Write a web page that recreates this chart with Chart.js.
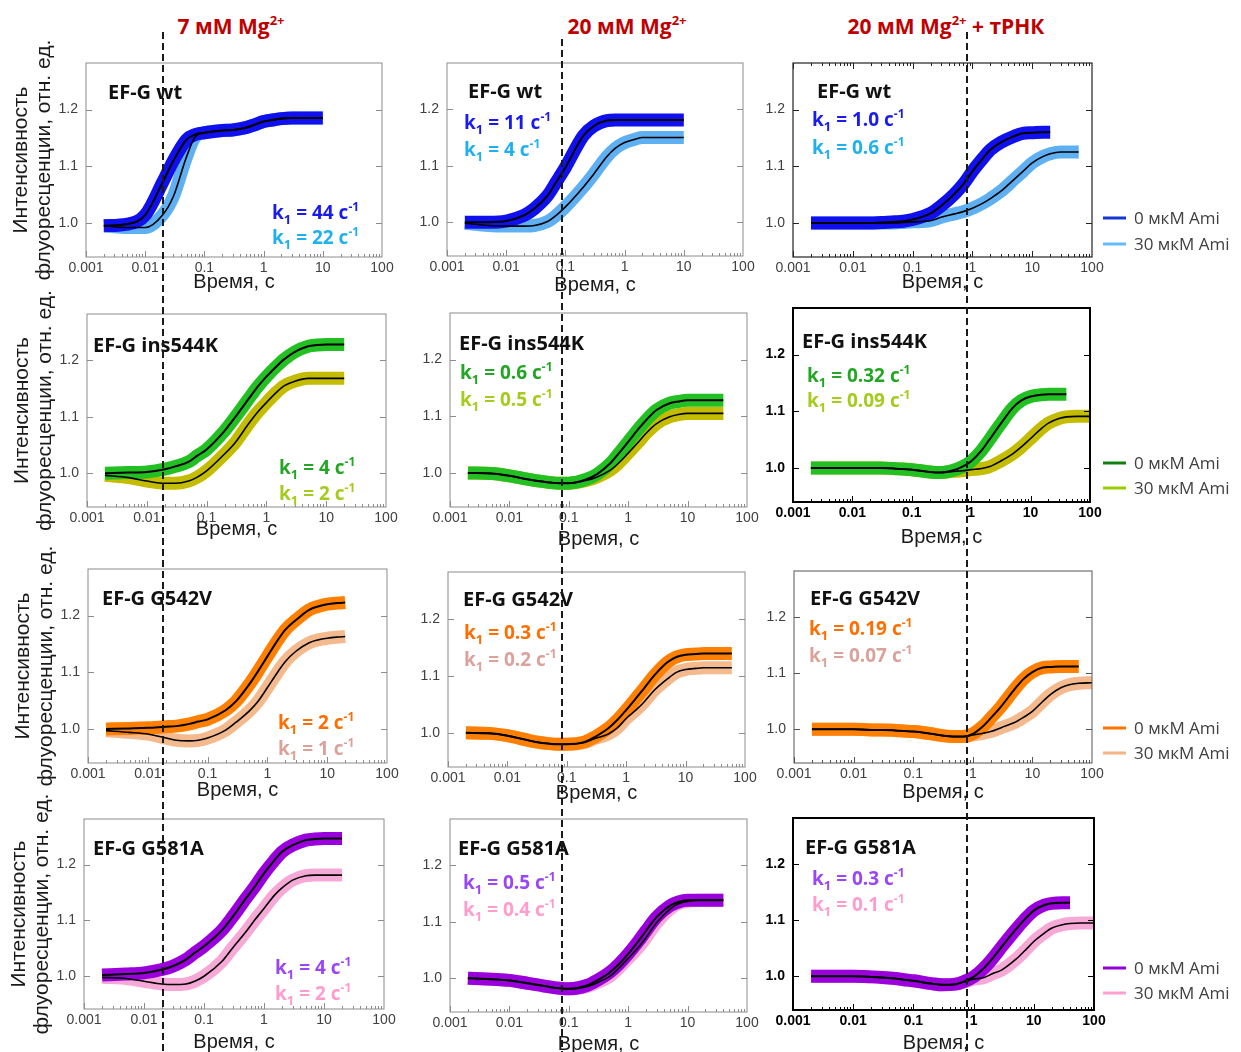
<!DOCTYPE html>
<html lang="ru">
<head>
<meta charset="utf-8">
<title>EF-G, флуоресценция</title>
<script src="https://cdn.jsdelivr.net/npm/chart.js@4.4.1/dist/chart.umd.min.js"></script>
<style>
  html, body { margin: 0; padding: 0; background: #fff; }
  #fig { position: relative; width: 1241px; height: 1052px; overflow: hidden; }
  #fig canvas { position: absolute; }
  .ctitle { position: absolute; top: 11px; transform: translateX(-50%); white-space: nowrap;
    font: bold 21px "Open Sans", sans-serif; color: #c00000; line-height: 30px; }
  .ctitle sup { font-size: 13px; line-height: 0; vertical-align: 9px; }
  #overlay { left: 0; top: 0; pointer-events: none; z-index: 5; }
</style>
</head>
<body>
<div id="fig">
  <div class="ctitle" style="left:231px">7 мМ Mg<sup>2+</sup></div>
  <div class="ctitle" style="left:627px">20 мМ Mg<sup>2+</sup></div>
  <div class="ctitle" style="left:946px">20 мМ Mg<sup>2+</sup> + тРНК</div>
  <canvas id="overlay" width="1241" height="1052"></canvas>
</div>
<script>
// общая сетка времени (с)
const TIMES = [0.002, 0.005, 0.01, 0.02, 0.03, 0.05, 0.07, 0.1, 0.2, 0.3, 0.5, 0.7, 1, 1.5, 2, 3, 5, 7, 10, 15, 20, 30, 40, 60, 100];

const X_TICKS = [0.001, 0.01, 0.1, 1, 10, 100];
const X_LABELS = ["0.001", "0.01", "0.1", "1", "10", "100"];
const Y_TICKS = [1.0, 1.1, 1.2];
const MUTANTS = ["EF-G wt", "EF-G ins544K", "EF-G G542V", "EF-G G581A"];
const SERIES_NAMES = ["0 мкМ Ami", "30 мкМ Ami"];
const DASH_TIMES = [0.02, 0.087, 0.81];

// k1 (с^-1) для 0 и 30 мкМ Ami: строки - мутанты, столбцы - условия
const K_0 = [["44", "11", "1.0"], ["4", "0.6", "0.32"], ["2", "0.3", "0.19"], ["4", "0.5", "0.3"]];
const K_30 = [["22", "4", "0.6"], ["2", "0.5", "0.09"], ["1", "0.2", "0.07"], ["2", "0.4", "0.1"]];

// EF-G wt
const wt_7_0 = [0.995, 0.998, 1.014, 1.073, 1.11, 1.147, 1.156, 1.159, 1.163, 1.164, 1.168, 1.173, 1.179, 1.182, 1.184, 1.185, 1.185, 1.185, 1.185, null, null, null, null, null, null];
const wt_7_30 = [0.995, 0.992, 0.992, 1.015, 1.047, 1.117, 1.152, 1.159, 1.163, 1.164, 1.168, 1.173, 1.179, 1.182, 1.184, 1.185, 1.185, 1.185, 1.185, null, null, null, null, null, null];
const wt_20_0 = [1.0, 1.0, 1.002, 1.012, 1.024, 1.047, 1.071, 1.097, 1.153, 1.17, 1.18, 1.181, 1.181, 1.181, 1.181, 1.181, 1.181, 1.181, 1.181, null, null, null, null, null, null];
const wt_20_30 = [0.998, 0.994, 0.993, 0.993, 0.994, 1.001, 1.012, 1.027, 1.062, 1.085, 1.116, 1.131, 1.141, 1.147, 1.15, 1.15, 1.15, 1.15, 1.15, null, null, null, null, null, null];
const wt_tr_0 = [1.0, 1.0, 1.0, 1.0, 1.001, 1.002, 1.003, 1.006, 1.017, 1.03, 1.051, 1.068, 1.091, 1.114, 1.129, 1.142, 1.153, 1.158, 1.159, 1.16, 1.16, null, null, null, null];
const wt_tr_30 = [1.0, 1.0, 1.0, 1.0, 1.0, 1.0, 1.001, 1.002, 1.004, 1.01, 1.016, 1.02, 1.026, 1.035, 1.043, 1.056, 1.077, 1.091, 1.106, 1.117, 1.122, 1.125, 1.125, 1.125, null];

// EF-G ins544K
const ins_7_0 = [1.0, 1.001, 1.002, 1.007, 1.012, 1.02, 1.031, 1.042, 1.075, 1.099, 1.131, 1.152, 1.171, 1.19, 1.202, 1.215, 1.225, 1.227, 1.228, 1.228, 1.228, null, null, null, null];
const ins_7_30 = [0.996, 0.992, 0.986, 0.982, 0.982, 0.986, 0.993, 1.004, 1.034, 1.054, 1.087, 1.107, 1.125, 1.144, 1.155, 1.163, 1.168, 1.168, 1.168, 1.168, 1.168, null, null, null, null];
const ins_20_0 = [1.0, 0.999, 0.995, 0.989, 0.986, 0.983, 0.982, 0.982, 0.989, 0.998, 1.017, 1.035, 1.055, 1.078, 1.093, 1.111, 1.123, 1.126, 1.128, 1.128, 1.128, 1.128, 1.128, null, null];
const ins_20_30 = [1.0, 0.999, 0.995, 0.989, 0.986, 0.983, 0.982, 0.982, 0.987, 0.993, 1.005, 1.018, 1.035, 1.055, 1.07, 1.087, 1.099, 1.103, 1.105, 1.105, 1.105, 1.105, 1.105, null, null];
const ins_tr_0 = [1.0, 1.0, 1.0, 1.0, 1.0, 0.999, 0.998, 0.997, 0.993, 0.992, 0.996, 1.002, 1.012, 1.031, 1.049, 1.075, 1.106, 1.119, 1.126, 1.129, 1.13, 1.13, 1.13, null, null];
const ins_tr_30 = [1.0, 1.0, 1.0, 1.0, 1.0, 0.999, 0.998, 0.997, 0.993, 0.992, 0.994, 0.995, 0.997, 0.999, 1.002, 1.011, 1.025, 1.037, 1.052, 1.069, 1.079, 1.087, 1.09, 1.091, 1.091];

// EF-G G542V
const g542_7_0 = [1.0, 1.001, 1.002, 1.004, 1.005, 1.009, 1.013, 1.017, 1.033, 1.049, 1.079, 1.102, 1.128, 1.157, 1.175, 1.192, 1.21, 1.216, 1.22, 1.222, 1.223, null, null, null, null];
const g542_7_30 = [0.997, 0.994, 0.991, 0.984, 0.98, 0.979, 0.98, 0.984, 0.998, 1.012, 1.032, 1.049, 1.073, 1.101, 1.119, 1.137, 1.152, 1.157, 1.16, 1.162, 1.163, null, null, null, null];
const g542_20_0 = [1.0, 0.999, 0.995, 0.988, 0.984, 0.981, 0.98, 0.98, 0.984, 0.993, 1.008, 1.022, 1.04, 1.062, 1.078, 1.101, 1.124, 1.133, 1.137, 1.138, 1.139, 1.139, 1.139, 1.139, null];
const g542_20_30 = [1.0, 0.999, 0.995, 0.988, 0.984, 0.981, 0.98, 0.98, 0.983, 0.99, 0.998, 1.008, 1.025, 1.041, 1.054, 1.075, 1.095, 1.106, 1.111, 1.113, 1.114, 1.114, 1.114, 1.114, null];
const g542_tr_0 = [1.0, 1.0, 1.0, 0.999, 0.999, 0.998, 0.997, 0.996, 0.992, 0.989, 0.987, 0.987, 0.992, 1.006, 1.02, 1.041, 1.071, 1.089, 1.102, 1.11, 1.111, 1.112, 1.112, 1.112, null];
const g542_tr_30 = [1.0, 1.0, 1.0, 0.999, 0.999, 0.998, 0.997, 0.996, 0.992, 0.989, 0.987, 0.987, 0.99, 0.993, 0.996, 1.003, 1.012, 1.021, 1.032, 1.05, 1.062, 1.074, 1.079, 1.082, 1.083];

// EF-G G581A
const g581_7_0 = [1.001, 1.003, 1.005, 1.011, 1.017, 1.029, 1.041, 1.053, 1.082, 1.106, 1.139, 1.16, 1.184, 1.208, 1.223, 1.235, 1.244, 1.246, 1.247, 1.247, 1.247, null, null, null, null];
const g581_7_30 = [0.997, 0.995, 0.99, 0.985, 0.984, 0.985, 0.99, 0.999, 1.026, 1.05, 1.079, 1.1, 1.121, 1.145, 1.158, 1.172, 1.18, 1.181, 1.181, 1.181, 1.181, null, null, null, null];
const g581_20_0 = [1.0, 0.998, 0.996, 0.991, 0.988, 0.984, 0.982, 0.981, 0.987, 0.996, 1.011, 1.025, 1.043, 1.066, 1.084, 1.108, 1.128, 1.135, 1.138, 1.138, 1.138, 1.138, 1.138, null, null];
const g581_20_30 = [1.0, 0.998, 0.996, 0.991, 0.988, 0.984, 0.982, 0.981, 0.985, 0.992, 1.004, 1.018, 1.035, 1.055, 1.072, 1.098, 1.122, 1.132, 1.136, 1.138, 1.138, 1.138, 1.138, null, null];
const g581_tr_0 = [1.0, 1.0, 1.0, 0.999, 0.998, 0.996, 0.994, 0.992, 0.987, 0.985, 0.986, 0.991, 0.999, 1.015, 1.03, 1.054, 1.083, 1.101, 1.117, 1.127, 1.13, 1.131, 1.131, null, null];
const g581_tr_30 = [1.0, 1.0, 1.0, 0.999, 0.998, 0.996, 0.994, 0.992, 0.987, 0.985, 0.986, 0.99, 0.995, 0.998, 1.004, 1.012, 1.03, 1.045, 1.062, 1.077, 1.086, 1.092, 1.094, 1.095, 1.095];

const SERIES = [
  [wt_7_0, wt_7_30], [wt_20_0, wt_20_30], [wt_tr_0, wt_tr_30],
  [ins_7_0, ins_7_30], [ins_20_0, ins_20_30], [ins_tr_0, ins_tr_30],
  [g542_7_0, g542_7_30], [g542_20_0, g542_20_30], [g542_tr_0, g542_tr_30],
  [g581_7_0, g581_7_30], [g581_20_0, g581_20_30], [g581_tr_0, g581_tr_30],
];

// --- оформление и раскладка (пиксели страницы) ---
const TRACE_COLORS = [["#1010ee", "#5eb0f2"], ["#22c022", "#c4bc00"], ["#ff8000", "#f4ba8e"], ["#9a00dc", "#f6a9d6"]];
const TEXT_COLORS = [["#1a1aee", "#1fb0f0"], ["#23a623", "#a5cb1c"], ["#ff6e00", "#daa29b"], ["#9a46f6", "#ff9ccd"]];
const LEGEND_COLORS = [["#1335d2", "#62bcff"], ["#137f13", "#9ccc00"], ["#ff7400", "#f6b385"], ["#9300d6", "#ffa0d2"]];

const RECTS = [
  [86, 63, 382, 257], [447, 63, 743, 256], [793, 63, 1092, 257],
  [87, 314, 386, 507], [450, 313, 747, 507], [793, 308, 1090, 502],
  [88, 569, 387, 763], [448, 572, 745, 767], [794, 571, 1092, 763],
  [84, 819, 384, 1009], [450, 819, 747, 1012], [793, 818, 1094, 1010],
];
const LABEL_AT = [[108, 92], [468, 91], [817, 91], [93, 345], [459, 343], [802, 341],
  [102, 598], [463, 599], [810, 598], [93, 848], [458, 848], [805, 847]];
const RATE_AT = [[272, 212, 237], [464, 122, 149], [812, 119, 147], [279, 467, 493], [460, 372, 399], [807, 375, 400],
  [278, 722, 748], [464, 632, 659], [809, 628, 655], [275, 967, 993], [463, 882, 909], [812, 878, 904]];
const XTITLE_OFF = [25, 29, 25, 22, 32, 35, 27, 26, 29, 33, 32, 33];
const LEGEND_Y = [[218, 244], [463, 488], [728, 753], [968, 993]];
const DASH_TOP = [32, 39, 32];
const FRAME = { 2: { color: "#222", width: 1.2, top: true }, 5: { color: "#000", width: 2 },
  8: { color: "#555", width: 1 }, 11: { color: "#000", width: 2 } };
const BOLD_TICKS = [5, 11];

Chart.defaults.font.family = '"Liberation Sans", Arial, sans-serif';

const fig = document.getElementById("fig");
const charts = [];
const offsets = [];

function pts(vals) {
  return TIMES.map((t, i) => ({ x: t, y: vals[i] }));
}

function drawRate(ctx, x, yc, value, color) {
  const base = yc + 7;
  const parts = [["k", 19, 0], ["1", 13, 5], [" = " + value + " с", 19, 0], ["-1", 12, -8]];
  ctx.fillStyle = color;
  ctx.textBaseline = "alphabetic";
  parts.forEach(([t, size, dy]) => {
    ctx.font = `bold ${size}px "Open Sans", sans-serif`;
    ctx.fillText(t, x, base + dy);
    x += ctx.measureText(t).width;
  });
}

function panelPlugin(idx, r, c, ox, oy) {
  const fr = FRAME[idx] || { color: "#8c8c8c", width: 1 };
  return {
    id: "panel" + idx,
    afterDraw(chart) {
      const { ctx, chartArea: a } = chart;
      const { x, y } = chart.scales;
      ctx.save();
      // рамка и засечки
      ctx.strokeStyle = fr.color;
      ctx.lineWidth = fr.width;
      ctx.strokeRect(a.left, a.top, a.right - a.left, a.bottom - a.top);
      ctx.lineWidth = 1;
      ctx.beginPath();
      for (let e = -3; e < 2; e++) {
        for (let m = 1; m <= 9; m++) {
          const px = Math.round(x.getPixelForValue(m * Math.pow(10, e))) + 0.5;
          const len = m === 1 ? 6 : 3;
          ctx.moveTo(px, a.bottom); ctx.lineTo(px, a.bottom - len);
          if (fr.top) { ctx.moveTo(px, a.top); ctx.lineTo(px, a.top + len); }
        }
      }
      Y_TICKS.forEach(v => {
        const py = Math.round(y.getPixelForValue(v)) + 0.5;
        ctx.moveTo(a.left, py); ctx.lineTo(a.left + 6, py);
        ctx.moveTo(a.right, py); ctx.lineTo(a.right - 6, py);
      });
      ctx.stroke();

      // подписи
      ctx.fillStyle = "#111";
      ctx.font = 'bold 20px "Open Sans", sans-serif';
      ctx.textBaseline = "alphabetic";
      ctx.fillText(MUTANTS[r], LABEL_AT[idx][0] - ox, LABEL_AT[idx][1] + 7 - oy);
      const [kx, k0y, k30y] = RATE_AT[idx];
      drawRate(ctx, kx - ox, k0y - oy, K_0[r][c], TEXT_COLORS[r][0]);
      drawRate(ctx, kx - ox, k30y - oy, K_30[r][c], TEXT_COLORS[r][1]);

      // легенда справа
      if (c === 2) {
        ctx.font = '17px "Open Sans", sans-serif';
        ctx.textBaseline = "middle";
        SERIES_NAMES.forEach((name, s) => {
          const ly = LEGEND_Y[r][s] - oy;
          ctx.strokeStyle = LEGEND_COLORS[r][s];
          ctx.lineWidth = 3;
          ctx.beginPath();
          ctx.moveTo(1103 - ox, ly); ctx.lineTo(1126 - ox, ly);
          ctx.stroke();
          ctx.fillStyle = "#404040";
          ctx.fillText(name, 1134 - ox, ly + 1);
        });
      }
      ctx.restore();
    },
  };
}

SERIES.forEach(([s0, s30], idx) => {
  const r = Math.floor(idx / 3), c = idx % 3;
  const [L, T, R, B] = RECTS[idx];
  const yW = c === 0 ? 86 : 50;
  const padTop = c === 0 ? 34 : 8;
  const padRight = c === 2 ? 1241 - R : 16;
  const xH = 50;
  const left = L - yW, top = T - padTop;
  const width = R - L + yW + padRight, height = B - T + padTop + xH;

  const canvas = document.createElement("canvas");
  canvas.width = width;
  canvas.height = height;
  canvas.style.left = left + "px";
  canvas.style.top = top + "px";
  canvas.style.width = width + "px";
  canvas.style.height = height + "px";
  fig.insertBefore(canvas, document.getElementById("overlay"));
  offsets.push({ left, top });

  const bold = BOLD_TICKS.includes(idx);
  const tickColor = bold ? "#000" : "#404040";
  const tickFont = { size: 14, weight: bold ? "bold" : "normal" };

  charts.push(new Chart(canvas.getContext("2d"), {
    type: "line",
    data: {
      datasets: [
        { label: SERIES_NAMES[0] + " fit", data: pts(s0), borderColor: "#000", borderWidth: 2 },
        { label: SERIES_NAMES[1] + " fit", data: pts(s30), borderColor: "#000", borderWidth: 1.6 },
        { label: SERIES_NAMES[0], data: pts(s0), borderColor: TRACE_COLORS[r][0], borderWidth: 13 },
        { label: SERIES_NAMES[1], data: pts(s30), borderColor: TRACE_COLORS[r][1], borderWidth: 13 },
      ],
    },
    options: {
      responsive: false,
      animation: false,
      devicePixelRatio: 1,
      layout: { padding: { top: padTop, right: padRight, left: 0, bottom: 0 } },
      plugins: { legend: { display: false }, tooltip: { enabled: false } },
      elements: {
        point: { radius: 0 },
        line: { cubicInterpolationMode: "monotone", borderJoinStyle: "round", borderCapStyle: "butt" },
      },
      scales: {
        x: {
          type: "logarithmic",
          min: 0.001,
          max: 100,
          grid: { display: false, drawTicks: false },
          border: { display: false },
          afterBuildTicks: s => { s.ticks = X_TICKS.map(v => ({ value: v })); },
          afterFit: s => { s.height = xH; s.paddingLeft = 0; s.paddingRight = 0; },
          ticks: {
            autoSkip: false, maxRotation: 0, padding: 3, color: tickColor, font: tickFont,
            callback: (v, i) => X_LABELS[i],
          },
          title: {
            display: true, text: "Время, с", color: "#1a1a1a", font: { size: 20 },
            padding: { top: 0, bottom: 38 - XTITLE_OFF[idx] },
          },
        },
        y: {
          min: 0.94,
          max: 1.282,
          grid: { display: false, drawTicks: false },
          border: { display: false },
          afterBuildTicks: s => { s.ticks = Y_TICKS.map(v => ({ value: v })); },
          afterFit: s => { s.width = yW; s.paddingTop = 0; s.paddingBottom = 0; },
          ticks: { padding: 8, color: tickColor, font: tickFont, callback: v => v.toFixed(1) },
          title: {
            display: c === 0,
            text: ["Интенсивность", "флуоресценции, отн. ед."],
            color: "#1a1a1a",
            font: { size: 21, lineHeight: 1.1 },
            padding: { top: 10, bottom: 0 },
          },
        },
      },
    },
    plugins: [panelPlugin(idx, r, c, left, top)],
  }));
});

// вертикальные пунктирные линии через все ряды
const ov = document.getElementById("overlay").getContext("2d");
ov.setLineDash([7, 4]);
ov.lineWidth = 2;
ov.strokeStyle = "#1a1a1a";
DASH_TIMES.forEach((t, c) => {
  const px = Math.round(charts[c].scales.x.getPixelForValue(t) + offsets[c].left);
  ov.beginPath();
  ov.moveTo(px, DASH_TOP[c]);
  ov.lineTo(px, 1052);
  ov.stroke();
});
</script>
</body>
</html>
